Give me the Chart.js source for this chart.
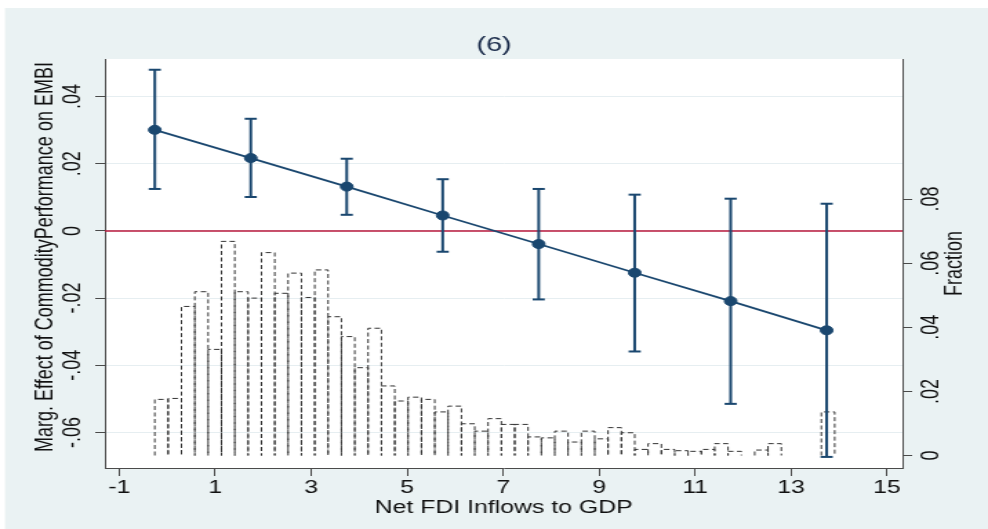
<!DOCTYPE html>
<html>
<head>
<meta charset="utf-8">
<script src="https://cdn.jsdelivr.net/npm/chart.js@4.4.1/dist/chart.umd.min.js"></script>
<style>
  html, body { margin: 0; padding: 0; background: #ffffff; }
</style>
</head>
<body>
<!-- the original graph is stretched sideways, so the canvas is drawn narrow and widened by its inline size -->
<canvas id="chart" width="716" height="529" style="display:block;width:988px;height:529px;"></canvas>
<script>
// marginal effect of commodity performance at chosen FDI levels
const fdiPoints = [-0.26, 1.74, 3.74, 5.74, 7.74, 9.74, 11.74, 13.74];
const margEffect = [0.0301, 0.0217, 0.0132, 0.0046, -0.0039, -0.01245, -0.0209, -0.0296];
const ciLower = [0.0125, 0.0101, 0.0048, -0.0062, -0.0204, -0.0359, -0.0515, -0.0673];
const ciUpper = [0.0480, 0.0334, 0.0215, 0.0154, 0.0125, 0.0108, 0.0096, 0.0081];

// histogram of net FDI inflows (fraction of obs. per bin)
const binStart = -0.26;
const binWidth = 0.2778;
const binFraction = [
  0.0175, 0.0178, 0.0465, 0.0511, 0.0331, 0.0668, 0.0511, 0.0491, 0.0633, 0.0506,
  0.0569, 0.0493, 0.0579, 0.0433, 0.0371, 0.0274, 0.0397, 0.0217, 0.0170, 0.0182,
  0.0175, 0.0136, 0.0154, 0.0099, 0.0076, 0.0115, 0.0097, 0.0097, 0.0058, 0.0055,
  0.0076, 0.0042, 0.0076, 0.0052, 0.0087, 0.0071, 0.0019, 0.0037, 0.0019, 0.0015,
  0.0013, 0.0019, 0.0037, 0.0013, 0, 0.0017, 0.0037, 0, 0, 0,
  0.0136
];

// axes
const xTicks = [-1, 1, 3, 5, 7, 9, 11, 13, 15];
const yTicks = [-0.06, -0.04, -0.02, 0, 0.02, 0.04];
const yTickLabels = ['-.06', '-.04', '-.02', '0', '.02', '.04'];
const fracTicks = [0, 0.02, 0.04, 0.06, 0.08];
const fracTickLabels = ['0', '.02', '.04', '.06', '.08'];

const xMin = -1.3, xMax = 15.32;
const yMin = -0.0706, yMax = 0.0512;
const fracMin = -0.0039, fracMax = 0.1237;

const FONT = "'Liberation Sans', Arial, sans-serif";
const NAVY = '#1a476f';
const RED = '#b8193c';
const AXIS = '#4a4a4a';
const GRID = '#e6eef1';
const TEXT = '#111111';
const BG = '#eaf2f3';

// outline of the histogram, bar by bar, as one dashed path
function histogramOutline() {
  const pts = [];
  binFraction.forEach((f, i) => {
    const left = binStart + i * binWidth;
    const right = left + binWidth;
    if (f > 0) {
      pts.push({x: left, y: 0}, {x: left, y: f}, {x: right, y: f}, {x: right, y: 0});
    } else {
      pts.push({x: left, y: null});
    }
  });
  return pts;
}

const errorBars = fdiPoints.map((x, i) => ({
  data: [{x: x, y: ciLower[i]}, {x: x, y: ciUpper[i]}],
  borderColor: NAVY,
  borderWidth: 2,
  pointStyle: 'line',
  pointRadius: 4.4,
  pointBorderWidth: 2,
  pointBorderColor: NAVY,
  yAxisID: 'y',
  order: 1
}));

// background, plot region and the rotated texts (Stata style vertical labels)
const plotDecor = {
  id: 'plotDecor',
  beforeDraw(chart) {
    const {ctx, chartArea: a, width, height} = chart;
    ctx.save();
    ctx.fillStyle = '#ffffff';
    ctx.fillRect(0, 0, width, height);
    ctx.fillStyle = BG;
    ctx.fillRect(3.6, 8, width - 3.6, height - 8);
    ctx.fillStyle = '#ffffff';
    ctx.fillRect(a.left, a.top, a.right - a.left, a.bottom - a.top);
    ctx.restore();
  },
  afterDraw(chart) {
    const {ctx} = chart;
    const yl = chart.scales.y;
    const yr = chart.scales.y2;
    const vtext = (txt, x, y) => {
      ctx.save();
      ctx.translate(x, y);
      ctx.rotate(-Math.PI / 2);
      ctx.fillText(txt, 0, 0);
      ctx.restore();
    };
    ctx.save();
    ctx.fillStyle = TEXT;
    ctx.font = '18px ' + FONT;
    ctx.textAlign = 'center';
    ctx.textBaseline = 'middle';
    yTicks.forEach((v, i) => vtext(yTickLabels[i], yl.right - 23, yl.getPixelForValue(v)));
    fracTicks.forEach((v, i) => vtext(fracTickLabels[i], yr.left + 21, yr.getPixelForValue(v)));
    vtext('Marg. Effect of CommodityPerformance on EMBI', 33.5, 257);
    vtext('Fraction', yr.left + 38.5, (yr.top + yr.bottom) / 2);
    ctx.restore();
  }
};

new Chart(document.getElementById('chart'), {
  type: 'line',
  data: {
    datasets: [
      {
        data: fdiPoints.map((x, i) => ({x: x, y: margEffect[i]})),
        borderColor: NAVY,
        borderWidth: 1.8,
        pointRadius: 4.5,
        pointBackgroundColor: NAVY,
        pointBorderColor: NAVY,
        pointBorderWidth: 1,
        yAxisID: 'y',
        order: 0
      },
      ...errorBars,
      {
        data: [{x: xMin, y: 0}, {x: xMax, y: 0}],
        borderColor: RED,
        borderWidth: 1.5,
        pointRadius: 0,
        yAxisID: 'y',
        order: 2
      },
      {
        data: histogramOutline(),
        borderColor: '#333333',
        borderWidth: 1,
        borderDash: [4, 2.5],
        pointRadius: 0,
        spanGaps: false,
        yAxisID: 'y2',
        order: 3
      }
    ]
  },
  options: {
    responsive: false,
    devicePixelRatio: 1,
    animation: false,
    events: [],
    layout: { padding: 0 },
    plugins: {
      legend: { display: false },
      tooltip: { enabled: false },
      title: {
        display: true,
        text: '(6)',
        color: '#1a2b4a',
        font: { family: FONT, size: 21, weight: 'normal', lineHeight: 1.2 },
        padding: { top: 32.4, bottom: 1.4 }
      }
    },
    scales: {
      x: {
        type: 'linear',
        min: xMin,
        max: xMax,
        afterBuildTicks: s => { s.ticks = xTicks.map(v => ({value: v})); },
        afterFit: s => { s.height = 61; },
        grid: { drawOnChartArea: false, drawTicks: true, tickLength: 8, tickColor: AXIS },
        border: { display: true, color: AXIS, width: 1 },
        ticks: {
          color: TEXT,
          font: { family: FONT, size: 18 },
          padding: 1,
          maxRotation: 0,
          autoSkip: false,
          callback: v => String(v)
        },
        title: {
          display: true,
          text: 'Net FDI Inflows to GDP',
          color: TEXT,
          font: { family: FONT, size: 18 },
          padding: { top: 0, bottom: 10 }
        }
      },
      y: {
        type: 'linear',
        position: 'left',
        min: yMin,
        max: yMax,
        afterBuildTicks: s => { s.ticks = yTicks.map(v => ({value: v})); },
        afterFit: s => { s.width = 76; },
        grid: { color: GRID, lineWidth: 1, drawTicks: true, tickLength: 7, tickColor: AXIS },
        border: { display: true, color: AXIS, width: 1 },
        ticks: { display: false }
      },
      y2: {
        type: 'linear',
        position: 'right',
        min: fracMin,
        max: fracMax,
        afterBuildTicks: s => { s.ticks = fracTicks.map(v => ({value: v})); },
        afterFit: s => { s.width = 62; },
        grid: { drawOnChartArea: false, drawTicks: true, tickLength: 7, tickColor: AXIS },
        border: { display: true, color: AXIS, width: 1 },
        ticks: { display: false }
      }
    }
  },
  plugins: [plotDecor]
});
</script>
</body>
</html>
